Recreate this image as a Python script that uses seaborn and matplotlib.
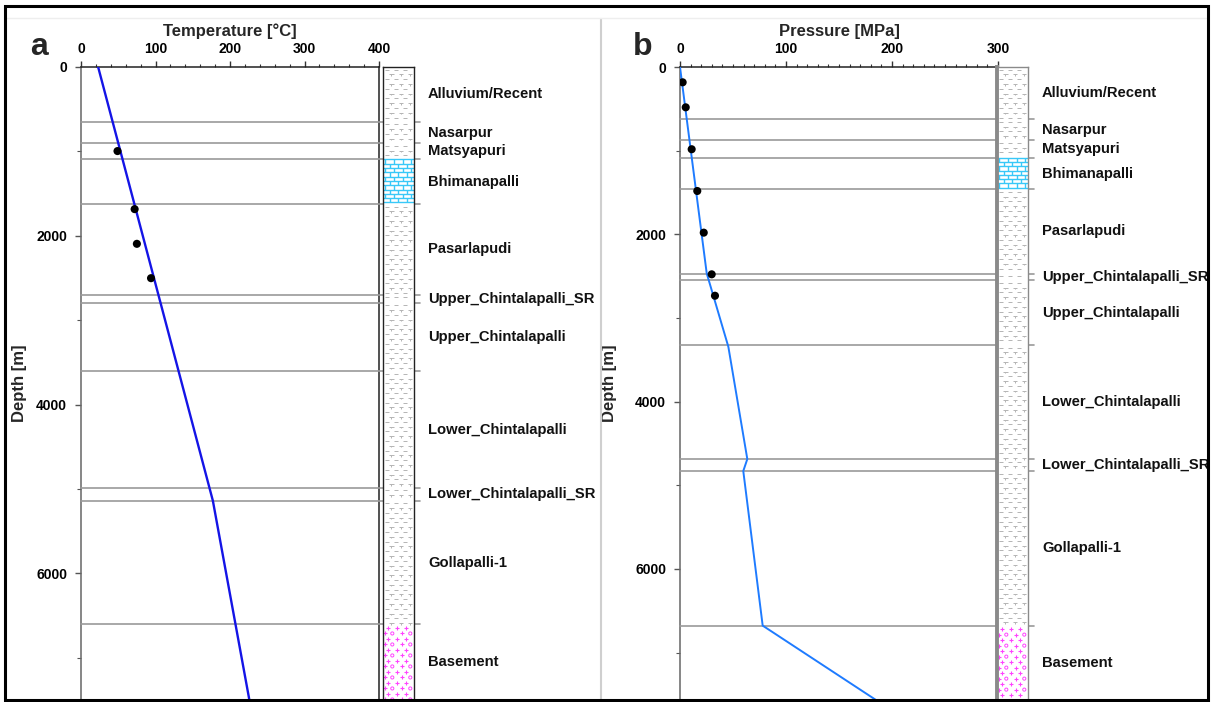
import numpy as np
import pandas as pd
import matplotlib
matplotlib.use("Agg")
import matplotlib.pyplot as plt
import seaborn as sns
from matplotlib.collections import LineCollection
from matplotlib.patches import Rectangle
from matplotlib.lines import Line2D
from matplotlib.ticker import MultipleLocator
import matplotlib.transforms as mtransforms

# ---------------- data ----------------
formations = ["Alluvium/Recent", "Nasarpur", "Matsyapuri", "Bhimanapalli", "Pasarlapudi",
              "Upper_Chintalapalli_SR", "Upper_Chintalapalli", "Lower_Chintalapalli",
              "Lower_Chintalapalli_SR", "Gollapalli-1", "Basement"]
lithology = ["shale", "shale", "shale", "limestone", "shale", "shale", "shale", "shale",
             "shale", "shale", "basement"]
tops_a = [0, 649, 905, 1095, 1625, 2698, 2795, 3605, 4987, 5139, 6605]
tops_b = [0, 625, 876, 1084, 1462, 2470, 2549, 3323, 4686, 4829, 6677]

temp_line_depth = [0, 5139, 7500]
temp_line_value = [23, 177, 226]
temp_obs_depth = [996, 1684, 2095, 2502]
temp_obs_value = [49, 72, 75, 94]

pres_line_depth = [0, 2466, 3343, 4686, 4829, 6677, 7566]
pres_line_value = [0, 25.2, 45.6, 63.5, 59.7, 78.0, 184.9]
pres_obs_depth = [183, 482, 983, 1482, 1980, 2478, 2734]
pres_obs_value = [2.5, 5.4, 11.0, 16.3, 22.4, 29.9, 33.0]

temp_ticks = [0, 100, 200, 300, 400]
pres_ticks = [0, 100, 200, 300]
depth_ticks = [0, 2000, 4000, 6000]

# ---------------- style ----------------
sns.set_theme(style="white")
plt.rcParams["font.family"] = ["Liberation Sans", "DejaVu Sans"]
plt.rcParams["font.weight"] = "bold"

W, H = 1212, 702
fig = plt.figure(figsize=(W / 100, H / 100), dpi=100)
fig.patch.set_facecolor("white")


def fx(px):
    return px / W


def fy(py):
    return 1 - py / H


def box(x0, y0, x1, y1):
    return [fx(x0), fy(y1), (x1 - x0) / W, (y1 - y0) / H]


def style_main(ax, xticks, xminor, ymax, xlabel, ylabel_x):
    ax.set_xlim(xticks[0], xticks[-1])
    ax.set_ylim(ymax, 0)
    ax.xaxis.tick_top()
    ax.xaxis.set_label_position("top")
    ax.set_xticks(xticks)
    ax.xaxis.set_minor_locator(MultipleLocator(xminor))
    ax.set_yticks(depth_ticks)
    ax.yaxis.set_minor_locator(MultipleLocator(1000))
    ax.tick_params(axis="x", which="major", direction="out", length=4, width=1,
                   pad=4, labelsize=10, colors="#333333", labelcolor="black")
    ax.tick_params(axis="x", which="minor", direction="out", length=2.5, width=0.8,
                   colors="#333333")
    ax.tick_params(axis="y", which="major", direction="out", length=4, width=1,
                   pad=6, labelsize=10, colors="#555555", labelcolor="black")
    ax.tick_params(axis="y", which="minor", direction="out", length=3, width=0.8,
                   colors="#555555")
    ax.tick_params(top=True, bottom=False, left=True, right=False, which="both")
    for lab in ax.get_xticklabels() + ax.get_yticklabels():
        lab.set_fontweight("bold")
    ax.set_xlabel(xlabel, fontsize=12, fontweight="bold", labelpad=4)
    ax.set_ylabel("Depth [m]", fontsize=12, fontweight="bold")
    ax.yaxis.set_label_coords(ylabel_x, 0.5)
    ax.spines["bottom"].set_visible(False)
    ax.spines["top"].set_color("#222222")
    ax.spines["left"].set_color("#666666")
    for s in ax.spines.values():
        s.set_linewidth(1.1)
    ax.grid(False)


def draw_column(cax, tops, ymax, litho):
    cax.set_xlim(0, 1)
    cax.set_ylim(ymax, 0)
    cax.set_xticks([])
    cax.set_yticks([])
    hpx = cax.bbox.height
    mpp = ymax / hpx  # metres per pixel
    bottoms = list(tops[1:]) + [ymax]
    for top, bot, kind in zip(tops, bottoms, litho):
        bot = min(bot, ymax)
        segs = []
        if kind == "shale":
            step = 4.8 * mpp
            k = 0
            y = top + 2.5 * mpp
            while y < bot - 1.0 * mpp:
                off = 0.0 if k % 2 == 0 else 0.15
                for c in (0.12, 0.42, 0.72):
                    cc = c + off
                    if cc + 0.07 > 1:
                        continue
                    segs.append([(cc - 0.07, y), (cc + 0.07, y)])
                    if k % 2 == 1:
                        segs.append([(cc, y), (cc, y + 1.6 * mpp)])
                y += step
                k += 1
            cax.add_collection(LineCollection(segs, colors="#b4b4b4", linewidths=0.7))
        elif kind == "limestone":
            step = 4.3 * mpp
            ys = np.arange(top, bot + 0.01, step)
            for i, y in enumerate(ys):
                segs.append([(0, y), (1, y)])
                if y + step <= bot + 0.01:
                    off = 0.0 if i % 2 == 0 else 0.14
                    for xv in np.arange(0.07 + off, 1.0, 0.28):
                        segs.append([(xv, y), (xv, y + step)])
            cax.add_collection(LineCollection(segs, colors="#38c8f8", linewidths=1.0))
        elif kind == "basement":
            step = 5.5 * mpp
            k = 0
            y = top + 3.5 * mpp
            px, py, ox, oy = [], [], [], []
            while y < bot:
                if k % 2 == 0:
                    for c in (0.15, 0.45, 0.75):
                        px.append(c); py.append(y)
                else:
                    for c in (0.05, 0.6):
                        px.append(c); py.append(y)
                    for c in (0.3, 0.88):
                        ox.append(c); oy.append(y)
                y += step
                k += 1
            cax.scatter(px, py, marker="+", s=12, color="#ff44ff", linewidths=0.8)
            cax.scatter(ox, oy, marker="o", s=5, facecolors="none",
                        edgecolors="#ff44ff", linewidths=0.7)
    cax.grid(False)


def boundaries_and_labels(ax, tops, ymax, x0px, x1px, label_px):
    trans = mtransforms.blended_transform_factory(fig.transFigure, ax.transData)
    for t in tops[1:]:
        ax.add_line(Line2D([fx(x0px), fx(x1px)], [t, t], transform=trans,
                           color="#9a9a9a", lw=1.2, clip_on=False, zorder=5))
    bottoms = list(tops[1:]) + [ymax]
    for name, top, bot in zip(formations, tops, bottoms):
        mid = (top + min(bot, ymax)) / 2
        ax.text(fx(label_px), mid, name, transform=trans, ha="left", va="center",
                fontsize=10.6, fontweight="bold", color="#111111", clip_on=False)


# ---------------- panel a ----------------
ymax_a = 7500
ax_a = fig.add_axes(box(81, 67, 379, 700))
sns.lineplot(x=temp_line_value, y=temp_line_depth, orient="y", sort=False,
             estimator=None, color="#1414e6", lw=1.7, ax=ax_a, zorder=6)
sns.scatterplot(x=temp_obs_value, y=temp_obs_depth, color="black", s=34,
                edgecolor="none", ax=ax_a, zorder=7)
style_main(ax_a, temp_ticks, 20, ymax_a, "Temperature [\u00b0C]", (27 - 81) / 298)
ax_a.spines["right"].set_color("#222222")

cax_a = fig.add_axes(box(383, 67, 414, 700))
draw_column(cax_a, tops_a, ymax_a, lithology)
for s in cax_a.spines.values():
    s.set_color("#222222"); s.set_linewidth(1.0)
cax_a.spines["bottom"].set_visible(False)
boundaries_and_labels(ax_a, tops_a, ymax_a, 81, 420, 428)

# ---------------- panel b ----------------
ymax_b = 7566
ax_b = fig.add_axes(box(680, 67, 998, 700))
sns.lineplot(x=pres_line_value, y=pres_line_depth, orient="y", sort=False,
             estimator=None, color="#1e7bff", lw=1.4, ax=ax_b, zorder=6)
sns.scatterplot(x=pres_obs_value, y=pres_obs_depth, color="black", s=34,
                edgecolor="none", ax=ax_b, zorder=7)
style_main(ax_b, pres_ticks, 10, ymax_b, "Pressure [MPa]", (617 - 680) / 318)
ax_b.spines["right"].set_visible(False)

cax_b = fig.add_axes(box(997, 67, 1028, 700))
draw_column(cax_b, tops_b, ymax_b, lithology)
for s in cax_b.spines.values():
    s.set_color("#8a8a8a"); s.set_linewidth(1.0)
cax_b.spines["left"].set_linewidth(2.8)
cax_b.spines["bottom"].set_visible(False)
boundaries_and_labels(ax_b, tops_b, ymax_b, 680, 1034, 1042)

# ---------------- panel letters, frame ----------------
fig.text(fx(39), fy(47), "a", fontsize=23, fontweight="bold", ha="center", va="center")
fig.text(fx(643), fy(47), "b", fontsize=23, fontweight="bold", ha="center", va="center")

fig.add_artist(Line2D([fx(601), fx(601)], [fy(19), fy(700)], color="#cfcfcf", lw=1.5))
fig.add_artist(Line2D([fx(6), fx(1208)], [fy(18), fy(18)], color="#eeeeee", lw=1.0))
fig.add_artist(Rectangle((fx(5), fy(700)), (1208 - 5) / W, (700 - 6) / H,
                         transform=fig.transFigure, fill=False, ec="black", lw=2.2,
                         zorder=20))

fig.savefig("out.png", dpi=100, facecolor="white")
